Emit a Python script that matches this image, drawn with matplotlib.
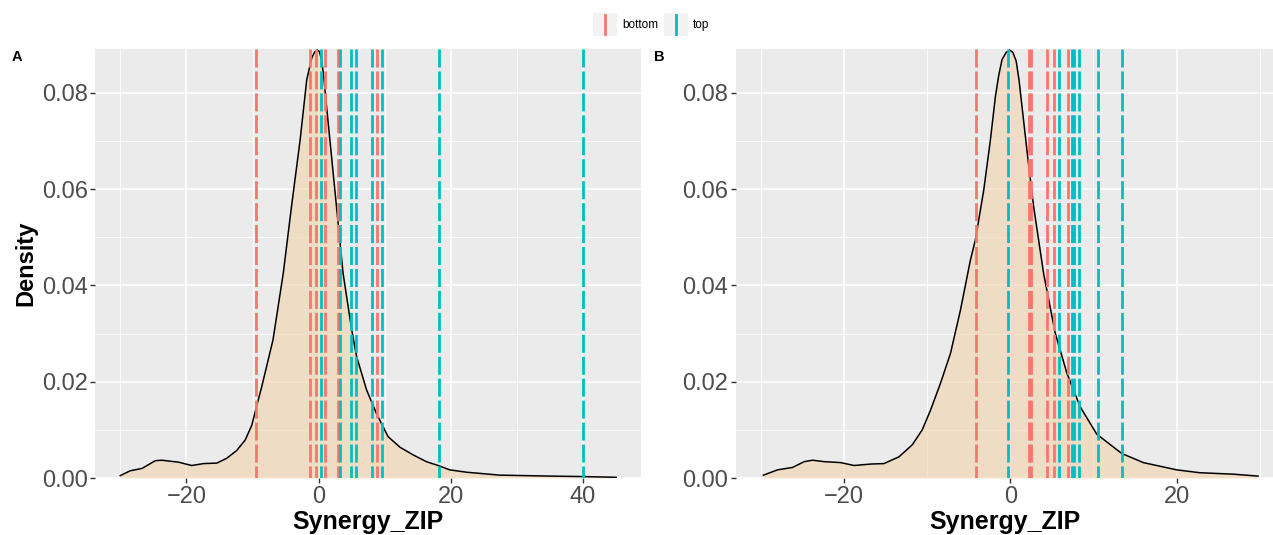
import numpy as np
import matplotlib
matplotlib.use("Agg")
import matplotlib.pyplot as plt
from matplotlib.patches import Rectangle
from matplotlib.lines import Line2D

plt.rcParams['font.family'] = ['Liberation Sans', 'DejaVu Sans']

# density curve, panel A (Synergy_ZIP over all combinations)
xA = [-30.0, -28.5, -26.7, -24.7, -23.7, -22.5, -21.2, -19.2, -17.4, -15.4, -13.9, -12.4,
      -11.1, -10.1, -9.4, -8.6, -6.9, -5.35, -4.1, -2.8, -1.8, -1.3, -1.05, -0.6, -0.2, 0.1,
      0.45, 0.8, 1.2, 1.95, 2.7, 3.7, 5.0, 5.75, 7.25, 8.75, 10.5, 12.3, 14.3, 16.3, 18.3,
      19.8, 22.4, 27.4, 35.0, 40.0, 45.0]
dA = [0.0005, 0.0015, 0.0020, 0.0036, 0.0037, 0.0035, 0.0033, 0.0026, 0.0030, 0.0031, 0.0041, 0.0057,
      0.0079, 0.0110, 0.0148, 0.0190, 0.0287, 0.0425, 0.0564, 0.0702, 0.0827, 0.0857, 0.0872, 0.0885, 0.0889, 0.0886,
      0.0869, 0.0830, 0.0772, 0.0668, 0.0564, 0.0425, 0.0308, 0.0252, 0.0183, 0.0134, 0.0086, 0.0064, 0.0048, 0.0034, 0.0025,
      0.0017, 0.0012, 0.0006, 0.0004, 0.0003, 0.00015]

# density curve, panel B
xB = [-29.7, -28.0, -26.2, -24.8, -23.8, -22.4, -20.4, -18.8, -16.8, -15.2, -13.4, -11.8,
      -10.6, -9.6, -8.4, -7.2, -6.0, -4.8, -4.2, -3.2, -2.4, -1.8, -1.4, -1.0, -0.5, -0.1, 0.3,
      0.7, 1.05, 1.4, 2.08, 2.8, 4.0, 5.4, 6.8, 8.4, 10.4, 13.4, 16.0, 20.0, 22.8, 26.8, 29.8]
dB = [0.0006, 0.0017, 0.0022, 0.0034, 0.0037, 0.0034, 0.0032, 0.0026, 0.0029, 0.0030, 0.0044, 0.0069,
      0.0100, 0.0141, 0.0197, 0.0259, 0.0349, 0.0453, 0.0495, 0.0598, 0.0702, 0.0792, 0.0836, 0.0869, 0.0884, 0.0889, 0.0884,
      0.0866, 0.0826, 0.0772, 0.0668, 0.0564, 0.0425, 0.0301, 0.0218, 0.0148, 0.0091, 0.0051, 0.0032, 0.0017, 0.0011, 0.0008, 0.0004]

# marked combinations (vertical lines)
bottomA = [-9.48, -1.27, -0.45, 1.0, 2.87, 8.81]
topA = [0.39, 3.17, 4.95, 5.7, 8.06, 9.6, 18.2, 40.0]
bottomB = [-4.15, 2.3, 2.5, 4.4, 5.25, 6.9]
topB = [-0.3, 5.9, 7.4, 7.6, 8.2, 10.5, 13.45]

xticksA = [-20, 0, 20, 40]
xticksB = [-20, 0, 20]
yticks = [0.0, 0.02, 0.04, 0.06, 0.08]

RED = '#F8766D'
TEAL = '#00BFC4'
BG = '#EBEBEB'

fig = plt.figure(figsize=(12.73, 5.35), dpi=100)

def panel(rect, x, d, bottom, top, xlim, xticks, tag, tagx, ylab):
   ax = fig.add_axes(rect)
   ax.set_facecolor(BG)
   for s in ax.spines.values():
      s.set_visible(False)
   ax.set_xticks(xticks)
   ax.set_yticks(yticks)
   ax.set_yticklabels([f"{v:.2f}" for v in yticks])
   minors = [t for t in range(-30, 50, 20) if xlim[0] < t < xlim[1]]
   ax.set_xticks(minors, minor=True)
   ax.set_yticks([0.01, 0.03, 0.05, 0.07], minor=True)
   ax.set_xlim(*xlim)
   ax.set_ylim(0, 0.0891)
   ax.grid(which='major', color='white', lw=1.1)
   ax.grid(which='minor', color='white', lw=0.55)
   ax.set_axisbelow(True)
   ax.tick_params(which='major', length=3.5, width=1.0, color='#333333',
                  labelsize=17, labelcolor='#4D4D4D', pad=2)
   ax.tick_params(which='minor', length=0)
   ax.fill_between(x, d, 0, color='#F2D2AA', alpha=0.6, lw=0, zorder=2)
   ax.plot(x, d, color='black', lw=1.1, zorder=3)
   for vals, col in ((bottom, RED), (top, TEAL)):
      for v in vals:
         ax.plot([v, v], [1, 0], transform=ax.get_xaxis_transform(), color=col,
                 lw=2.0, ls=(0, (6.5, 1.4)), zorder=4)
   ax.set_xlabel('Synergy_ZIP', fontsize=18, fontweight='bold', labelpad=2)
   if ylab:
      ax.set_ylabel('Density', fontsize=17, fontweight='bold', labelpad=3)
   fig.text(tagx, 0.893, tag, fontsize=10.5, fontweight='bold', ha='left', va='center')
   return ax

axA = panel([0.075, 0.1065, 0.4285, 0.8019], xA, dA, bottomA, topA,
            (-33.75, 48.75), xticksA, 'A', 0.009, True)
axB = panel([0.5782, 0.1065, 0.4218, 0.8019], xB, dB, bottomB, topB,
            (-33.0, 31.6), xticksB, 'B', 0.514, False)

# legend at top centre
W, H = 1273.0, 535.0
for (kx, col, lab) in ((593, RED, 'bottom'), (664, TEAL, 'top')):
   fig.add_artist(Rectangle((kx / W, 1 - 36 / H), 24 / W, 23 / H, transform=fig.transFigure,
                            facecolor='#F2F2F2', edgecolor='none'))
   fig.add_artist(Line2D([(kx + 12) / W] * 2, [1 - 34 / H, 1 - 15 / H], transform=fig.transFigure,
                         color=col, lw=2.0))
   fig.text((kx + 29) / W, 1 - 25 / H, lab, fontsize=8.5, ha='left', va='center')

fig.savefig('out.png', dpi=100)
